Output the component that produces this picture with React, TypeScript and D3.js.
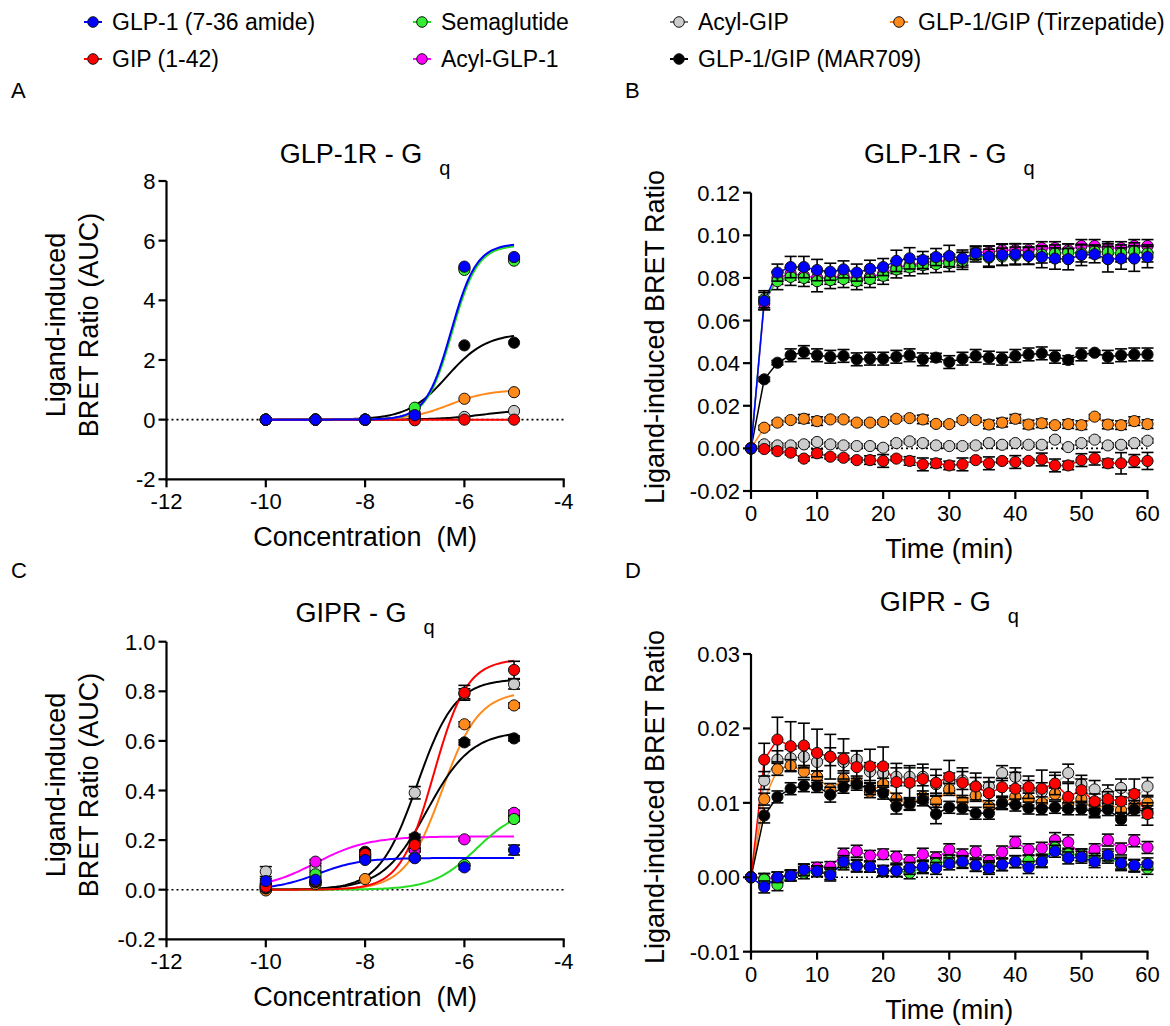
import React from "react";
import * as d3 from "d3";

const FONT = "'Liberation Sans', Arial, Helvetica, sans-serif";

// ---------- series ----------
const KEYS = ["glp1", "gip", "sema", "acylGlp1", "acylGip", "tirz", "mar709"];
const NAMES: Record<string, string> = {
  glp1: "GLP-1 (7-36 amide)",
  gip: "GIP (1-42)",
  sema: "Semaglutide",
  acylGlp1: "Acyl-GLP-1",
  acylGip: "Acyl-GIP",
  tirz: "GLP-1/GIP (Tirzepatide)",
  mar709: "GLP-1/GIP (MAR709)",
};
const FILL: Record<string, string> = {
  glp1: "#0000ff", gip: "#ff0000", sema: "#33ee33", acylGlp1: "#ff00ff",
  acylGip: "#cccccc", tirz: "#ff8a1c", mar709: "#000000",
};
const CURVE_COLOR: Record<string, string> = {
  glp1: "#0000ff", gip: "#ff0000", sema: "#22dd22", acylGlp1: "#ff00ff",
  acylGip: "#000000", tirz: "#ff8a1c", mar709: "#000000",
};
const TIME_LINE_COLOR: Record<string, string> = {
  glp1: "#0000ff", gip: "#ff0000", sema: "#22dd22", acylGlp1: "#ff00ff",
  acylGip: "#b0b0b0", tirz: "#ff8a1c", mar709: "#000000",
};
const DRAW_ORDER = ["acylGip", "tirz", "mar709", "acylGlp1", "sema", "gip", "glp1"];
const LEGEND_ROWS = [
  ["glp1", "sema", "acylGip", "tirz"],
  ["gip", "acylGlp1", "mar709"],
];

// ---------- x categories ----------
const CONC = [-10, -9, -8, -7, -6, -5];
const TIMES = [0, 2, 4, 6, 8, 10, 12, 14, 16, 18, 20, 22, 24, 26, 28, 30, 32, 34, 36, 38, 40, 42, 44, 46, 48, 50, 52, 54, 56, 58, 60];

// ---------- Panel A: GLP-1R - Gq, AUC ----------
const A_GLP1 = [0, 0, 0, 0.15, 5.13, 5.45];
const A_GIP = [0, 0, 0, -0.02, 0, 0];
const A_SEMA = [0, 0, 0, 0.4, 5.02, 5.33];
const A_ACYLGLP1 = [0, 0, 0, 0.22, 5.08, 5.4];
const A_ACYLGIP = [0, 0, 0, 0.02, 0.09, 0.29];
const A_TIRZ = [0, 0, 0, 0.06, 0.7, 0.92];
const A_MAR709 = [0, 0, 0, 0.1, 2.49, 2.58];
// fit parameters: [bottom, top, logEC50, hill]
const A_FIT_GLP1 = [0, 5.9, -6.27, 1.7];
const A_FIT_GIP = [0, 0, -6, 1];
const A_FIT_SEMA = [0, 5.85, -6.25, 1.7];
const A_FIT_ACYLGLP1 = [0, 5.88, -6.26, 1.7];
const A_FIT_ACYLGIP = [0, 0.35, -5.6, 1.0];
const A_FIT_TIRZ = [0, 1.0, -6.3, 1.1];
const A_FIT_MAR709 = [0, 2.9, -6.35, 1.1];

// ---------- Panel C: GIPR - Gq, AUC ----------
const C_GLP1 = [0.035, 0.04, 0.12, 0.127, 0.09, 0.16];
const C_GIP = [0.012, 0.035, 0.144, 0.18, 0.794, 0.886];
const C_SEMA = [0.01, 0.062, 0.13, 0.13, 0.1, 0.285];
const C_ACYLGLP1 = [0.02, 0.113, 0.14, 0.16, 0.203, 0.31];
const C_ACYLGIP = [0.073, 0.086, 0.13, 0.391, 0.79, 0.829];
const C_TIRZ = [-0.003, 0.023, 0.043, 0.16, 0.667, 0.743];
const C_MAR709 = [0.005, 0.03, 0.153, 0.211, 0.594, 0.61];
const C_ERR_GLP1 = [0.01, 0.008, 0.008, 0.008, 0.008, 0.02];
const C_ERR_GIP = [0.005, 0.005, 0.01, 0.012, 0.03, 0.035];
const C_ERR_SEMA = [0.005, 0.008, 0.005, 0.005, 0.005, 0.01];
const C_ERR_ACYLGLP1 = [0.005, 0.008, 0.005, 0.005, 0.005, 0.01];
const C_ERR_ACYLGIP = [0.02, 0.01, 0.01, 0.025, 0.02, 0.02];
const C_ERR_TIRZ = [0.005, 0.005, 0.005, 0.008, 0.01, 0.01];
const C_ERR_MAR709 = [0.005, 0.005, 0.008, 0.012, 0.01, 0.01];
const C_FIT_GLP1 = [0, 0.128, -8.95, 1.0];
const C_FIT_GIP = [0, 0.93, -6.62, 1.3];
const C_FIT_SEMA = [0, 0.33, -5.76, 1.0];
const C_FIT_ACYLGLP1 = [0, 0.215, -9.0, 0.82];
const C_FIT_ACYLGIP = [0, 0.85, -6.95, 1.14];
const C_FIT_TIRZ = [0, 0.8, -6.45, 1.17];
const C_FIT_MAR709 = [0, 0.64, -6.75, 0.98];

// ---------- Panel B: GLP-1R - Gq, time course ----------
const B_GLP1 = [0, 0.0692, 0.0825, 0.0851, 0.0851, 0.0837, 0.0829, 0.084, 0.0825, 0.0843, 0.0851, 0.088, 0.0892, 0.0884, 0.0898, 0.0903, 0.0891, 0.0916, 0.09, 0.0908, 0.0911, 0.0903, 0.0898, 0.0891, 0.0888, 0.0908, 0.0911, 0.0888, 0.0891, 0.0891, 0.0898];
const B_GIP = [0, -0.0003, -0.0013, -0.002, -0.0048, -0.0023, -0.0039, -0.0044, -0.0055, -0.0055, -0.0059, -0.0048, -0.0059, -0.0075, -0.007, -0.008, -0.0075, -0.0055, -0.007, -0.0059, -0.0064, -0.0059, -0.0052, -0.008, -0.008, -0.0055, -0.0048, -0.007, -0.007, -0.0059, -0.0059];
const B_SEMA = [0, 0.07, 0.0785, 0.0805, 0.08, 0.0785, 0.079, 0.0795, 0.0785, 0.0795, 0.081, 0.084, 0.085, 0.086, 0.0865, 0.087, 0.088, 0.0905, 0.0895, 0.09, 0.0905, 0.0905, 0.091, 0.0915, 0.092, 0.0915, 0.0925, 0.092, 0.0915, 0.0925, 0.0915];
const B_ACYLGLP1 = [0, 0.068, 0.08, 0.082, 0.081, 0.08, 0.08, 0.081, 0.0795, 0.0805, 0.082, 0.085, 0.086, 0.087, 0.088, 0.088, 0.089, 0.092, 0.092, 0.093, 0.093, 0.093, 0.094, 0.094, 0.093, 0.095, 0.095, 0.094, 0.094, 0.095, 0.095];
const B_ACYLGIP = [0, 0.0019, 0.0014, 0.0014, 0.0019, 0.003, 0.0019, 0.0014, 0.0011, 0.0011, 0.0003, 0.0025, 0.0033, 0.0025, 0.0014, 0.0011, 0.0011, 0.0014, 0.0025, 0.0017, 0.0025, 0.0017, 0.0017, 0.0041, 0.0006, 0.0025, 0.0041, 0.0014, 0.0017, 0.0025, 0.0036];
const B_TIRZ = [0, 0.0097, 0.0121, 0.0133, 0.0139, 0.0128, 0.0136, 0.0136, 0.0121, 0.0121, 0.0124, 0.0139, 0.0142, 0.0136, 0.0115, 0.0114, 0.0133, 0.0133, 0.0112, 0.0121, 0.0139, 0.0112, 0.0118, 0.0109, 0.0114, 0.0109, 0.0149, 0.0112, 0.0109, 0.0128, 0.0114];
const B_MAR709 = [0, 0.0324, 0.0402, 0.0437, 0.0452, 0.0437, 0.043, 0.0434, 0.0418, 0.0421, 0.0421, 0.043, 0.0437, 0.0418, 0.0426, 0.0405, 0.0421, 0.0434, 0.0426, 0.0421, 0.0434, 0.0441, 0.0446, 0.043, 0.0415, 0.0441, 0.0449, 0.043, 0.0437, 0.0441, 0.0441];
const B_ERR_GLP1 = [0, 0.004, 0.004, 0.005, 0.005, 0.005, 0.004, 0.004, 0.004, 0.004, 0.004, 0.005, 0.005, 0.004, 0.004, 0.005, 0.004, 0.003, 0.005, 0.005, 0.005, 0.004, 0.005, 0.005, 0.005, 0.005, 0.004, 0.006, 0.005, 0.006, 0.005];
const B_ERR_GIP = [0, 0.001, 0.001, 0.001, 0.001, 0.002, 0.001, 0.001, 0.001, 0.002, 0.003, 0.001, 0.002, 0.003, 0.002, 0.002, 0.003, 0.001, 0.003, 0.001, 0.003, 0.001, 0.003, 0.003, 0.002, 0.003, 0.003, 0.002, 0.005, 0.003, 0.004];
const B_ERR_SEMA = [0, 0.004, 0.004, 0.004, 0.004, 0.005, 0.004, 0.004, 0.004, 0.004, 0.004, 0.004, 0.004, 0.004, 0.004, 0.004, 0.004, 0.003, 0.004, 0.004, 0.004, 0.004, 0.004, 0.004, 0.004, 0.004, 0.003, 0.004, 0.004, 0.004, 0.004];
const B_ERR_ACYLGLP1 = [0, 0.003, 0.003, 0.003, 0.003, 0.003, 0.003, 0.003, 0.003, 0.003, 0.003, 0.003, 0.003, 0.003, 0.003, 0.003, 0.003, 0.003, 0.003, 0.003, 0.003, 0.003, 0.003, 0.003, 0.003, 0.003, 0.003, 0.003, 0.003, 0.003, 0.003];
const B_ERR_ACYLGIP = [0, 0.001, 0.001, 0.001, 0.001, 0.001, 0.001, 0.001, 0.001, 0.001, 0.001, 0.001, 0.001, 0.001, 0.001, 0.001, 0.001, 0.001, 0.001, 0.001, 0.001, 0.001, 0.001, 0.001, 0.001, 0.001, 0.001, 0.001, 0.001, 0.001, 0.001];
const B_ERR_TIRZ = [0, 0.001, 0.001, 0.001, 0.002, 0.002, 0.001, 0.001, 0.001, 0.001, 0.001, 0.001, 0.001, 0.002, 0.001, 0.001, 0.001, 0.001, 0.002, 0.002, 0.002, 0.002, 0.002, 0.001, 0.002, 0.002, 0.001, 0.002, 0.002, 0.002, 0.002];
const B_ERR_MAR709 = [0, 0.001, 0.001, 0.003, 0.003, 0.003, 0.003, 0.003, 0.003, 0.003, 0.003, 0.003, 0.003, 0.003, 0.002, 0.003, 0.003, 0.003, 0.003, 0.003, 0.003, 0.003, 0.003, 0.003, 0.002, 0.003, 0.001, 0.003, 0.003, 0.003, 0.003];

// ---------- Panel D: GIPR - Gq, time course ----------
const D_GLP1 = [0, -0.0013, 0, 0.0002, 0.001, 0.0008, 0.0003, 0.0021, 0.0015, 0.0014, 0.0009, 0.0009, 0.0012, 0.0014, 0.0012, 0.0018, 0.0021, 0.0016, 0.0012, 0.0017, 0.0021, 0.0013, 0.0021, 0.0035, 0.0026, 0.0027, 0.0021, 0.003, 0.0019, 0.0016, 0.0018];
const D_GIP = [0, 0.0158, 0.0185, 0.0176, 0.0177, 0.0167, 0.0162, 0.0159, 0.0148, 0.0149, 0.0149, 0.0128, 0.0127, 0.0132, 0.0127, 0.0135, 0.0127, 0.0122, 0.0113, 0.0121, 0.0119, 0.0121, 0.0119, 0.0126, 0.0108, 0.0117, 0.0102, 0.0105, 0.0102, 0.0112, 0.0085];
const D_SEMA = [0, -0.0003, -0.001, 0.0002, 0.0006, 0.0008, 0.0005, 0.0018, 0.0016, 0.0014, 0.0008, 0.0009, 0.0006, 0.0013, 0.0018, 0.0022, 0.002, 0.0016, 0.0014, 0.0017, 0.0021, 0.0022, 0.0022, 0.004, 0.0031, 0.003, 0.0024, 0.0027, 0.0017, 0.0015, 0.0012];
const D_ACYLGLP1 = [0, -0.0002, 0, 0.0003, 0.001, 0.0013, 0.0014, 0.0031, 0.0035, 0.0029, 0.0031, 0.0027, 0.0022, 0.0031, 0.0026, 0.0037, 0.003, 0.0034, 0.0022, 0.0034, 0.0047, 0.0037, 0.0039, 0.005, 0.0047, 0.003, 0.0037, 0.005, 0.0038, 0.0049, 0.004];
const D_ACYLGIP = [0, 0.013, 0.0158, 0.016, 0.0162, 0.0155, 0.0162, 0.0155, 0.0158, 0.0142, 0.014, 0.0135, 0.0135, 0.0135, 0.0125, 0.0128, 0.013, 0.0122, 0.0122, 0.014, 0.0135, 0.0118, 0.0115, 0.0125, 0.014, 0.0125, 0.0118, 0.0112, 0.012, 0.0105, 0.0122];
const D_TIRZ = [0, 0.0105, 0.0145, 0.015, 0.0142, 0.0135, 0.0118, 0.0132, 0.0128, 0.0115, 0.0125, 0.0105, 0.0098, 0.0108, 0.0102, 0.0118, 0.0102, 0.011, 0.0095, 0.01, 0.0108, 0.0105, 0.01, 0.0112, 0.0098, 0.0105, 0.009, 0.01, 0.009, 0.0095, 0.01];
const D_MAR709 = [0, 0.0083, 0.0108, 0.0119, 0.0123, 0.0122, 0.0111, 0.0121, 0.0125, 0.0119, 0.0113, 0.0095, 0.0099, 0.0104, 0.0085, 0.0094, 0.0093, 0.0086, 0.0086, 0.0099, 0.0097, 0.0093, 0.0092, 0.0094, 0.0092, 0.0092, 0.0088, 0.0091, 0.0078, 0.0091, 0.0088];
const D_ERR_GLP1 = [0, 0.0008, 0.0007, 0.0007, 0.0008, 0.0007, 0.0008, 0.0008, 0.0008, 0.0007, 0.0007, 0.0008, 0.0008, 0.0008, 0.0008, 0.0008, 0.0008, 0.0008, 0.0008, 0.0008, 0.0008, 0.0008, 0.0008, 0.0008, 0.0008, 0.0008, 0.0008, 0.0008, 0.0008, 0.0008, 0.0008];
const D_ERR_GIP = [0, 0.0022, 0.003, 0.0033, 0.003, 0.0032, 0.003, 0.0027, 0.0022, 0.0023, 0.0026, 0.0025, 0.0023, 0.002, 0.0018, 0.0022, 0.002, 0.0018, 0.0015, 0.0012, 0.0022, 0.0015, 0.0025, 0.0015, 0.0018, 0.0015, 0.001, 0.001, 0.0015, 0.002, 0.0015];
const D_ERR_SEMA = [0, 0.0008, 0.0008, 0.0007, 0.0008, 0.0007, 0.0008, 0.0008, 0.0008, 0.0007, 0.0007, 0.0008, 0.0008, 0.0008, 0.0008, 0.0008, 0.0008, 0.0008, 0.0008, 0.0008, 0.0008, 0.0008, 0.0008, 0.0008, 0.0008, 0.0008, 0.0008, 0.0008, 0.0008, 0.0008, 0.0008];
const D_ERR_ACYLGLP1 = [0, 0.0007, 0.0007, 0.0007, 0.0007, 0.0007, 0.0007, 0.0008, 0.0008, 0.0007, 0.0007, 0.0008, 0.0008, 0.0008, 0.0008, 0.0008, 0.0008, 0.0008, 0.0008, 0.0008, 0.0008, 0.0008, 0.0008, 0.001, 0.001, 0.0008, 0.0008, 0.0008, 0.0008, 0.0008, 0.0008];
const D_ERR_ACYLGIP = [0, 0.0012, 0.0012, 0.0012, 0.0012, 0.0012, 0.0012, 0.0012, 0.0012, 0.0012, 0.0012, 0.0012, 0.0012, 0.0012, 0.0012, 0.0012, 0.0012, 0.0012, 0.0012, 0.001, 0.0012, 0.0012, 0.0012, 0.0012, 0.0012, 0.0012, 0.0012, 0.0012, 0.0012, 0.0012, 0.0012];
const D_ERR_TIRZ = [0, 0.0008, 0.0008, 0.0008, 0.0008, 0.0008, 0.0008, 0.0008, 0.0008, 0.0008, 0.0008, 0.0008, 0.0008, 0.0008, 0.0008, 0.0008, 0.0008, 0.0008, 0.0008, 0.0008, 0.0008, 0.0008, 0.0008, 0.0008, 0.0008, 0.0008, 0.0008, 0.0008, 0.0008, 0.0008, 0.0008];
const D_ERR_MAR709 = [0, 0.001, 0.0008, 0.0008, 0.0008, 0.0008, 0.001, 0.0008, 0.0008, 0.0008, 0.0008, 0.001, 0.0008, 0.0008, 0.0013, 0.0008, 0.0008, 0.0008, 0.0008, 0.0008, 0.0008, 0.0008, 0.0008, 0.0008, 0.0008, 0.0008, 0.0008, 0.0008, 0.0008, 0.0008, 0.0008];

// ---------- tick values ----------
const CONC_TICKS = [-12, -10, -8, -6, -4];
const TIME_TICKS = [0, 10, 20, 30, 40, 50, 60];
const A_YTICKS = [-2, 0, 2, 4, 6, 8];
const B_YTICKS = [-0.02, 0, 0.02, 0.04, 0.06, 0.08, 0.1, 0.12];
const C_YTICKS = [-0.2, 0, 0.2, 0.4, 0.6, 0.8, 1.0];
const D_YTICKS = [-0.01, 0, 0.01, 0.02, 0.03];

function logistic(x: number, f: number[]) {
  const [b, t, l, h] = f;
  return b + (t - b) / (1 + Math.pow(10, (l - x) * h));
}

type Panel = {
  letter: string; letterX: number; letterY: number;
  left: number; right: number; top: number; bottom: number;
  xDomain: [number, number]; yDomain: [number, number];
  xTicks: number[]; yTicks: number[]; yFmt: (v: number) => string;
  title: string; titleY: number;
  xLabel: string; yLabels: string[]; yLabelXs: number[]; yLabelCY: number;
  xs: number[];
  values: Record<string, number[]>;
  errors?: Record<string, number[]>;
  fits?: Record<string, number[]>;
};

function PanelView({ p }: { p: Panel }) {
  const x = d3.scaleLinear().domain(p.xDomain).range([p.left, p.right]);
  const y = d3.scaleLinear().domain(p.yDomain).range([p.bottom, p.top]);
  const cx = (p.left + p.right) / 2;
  const line = d3.line<[number, number]>().x((d) => x(d[0])).y((d) => y(d[1]));
  const curveXs = d3.range(p.xs[0], p.xs[p.xs.length - 1] + 0.0001, 0.05);

  return (
    <g>
      <text x={p.letterX} y={p.letterY} fontSize={22} fontFamily={FONT}>{p.letter}</text>
      <text x={cx} y={p.titleY} textAnchor="middle" fontSize={27} fontFamily={FONT}>
        {p.title}
        <tspan dx={17} dy={12} fontSize={20}>q</tspan>
      </text>
      {/* zero dotted line */}
      <line x1={p.left} x2={p.right} y1={y(0)} y2={y(0)} stroke="#000" strokeWidth={1.6} strokeDasharray="2,3" />
      {/* lines / curves */}
      {DRAW_ORDER.map((k) => {
        if (p.fits) {
          const pts: [number, number][] = curveXs.map((v) => [v, logistic(v, p.fits![k])]);
          return <path key={k} d={line(pts) || ""} fill="none" stroke={CURVE_COLOR[k]} strokeWidth={2} />;
        }
        const pts: [number, number][] = p.xs.map((v, i) => [v, p.values[k][i]]);
        return <path key={k} d={line(pts) || ""} fill="none" stroke={TIME_LINE_COLOR[k]} strokeWidth={1.5} />;
      })}
      {/* error bars and points */}
      {DRAW_ORDER.map((k) => (
        <g key={k}>
          {p.errors &&
            p.xs.map((v, i) => {
              const e = p.errors![k][i];
              if (!e) return null;
              const px = x(v);
              const yt = y(p.values[k][i] + e);
              const yb = y(p.values[k][i] - e);
              return (
                <g key={i} stroke="#000" strokeWidth={1.6}>
                  <line x1={px} x2={px} y1={yt} y2={yb} />
                  <line x1={px - 6} x2={px + 6} y1={yt} y2={yt} />
                  <line x1={px - 6} x2={px + 6} y1={yb} y2={yb} />
                </g>
              );
            })}
          {p.xs.map((v, i) => (
            <circle key={i} cx={x(v)} cy={y(p.values[k][i])} r={5.6} fill={FILL[k]} stroke="#111" strokeWidth={1} />
          ))}
        </g>
      ))}
      {/* axes */}
      <line x1={p.left} x2={p.left} y1={p.top} y2={p.bottom + 1} stroke="#000" strokeWidth={2.2} />
      <line x1={p.left - 1} x2={p.right + 1} y1={p.bottom} y2={p.bottom} stroke="#000" strokeWidth={2.2} />
      {p.yTicks.map((t) => (
        <g key={t}>
          <line x1={p.left - 8} x2={p.left} y1={y(t)} y2={y(t)} stroke="#000" strokeWidth={2.2} />
          <text x={p.left - 11} y={y(t) + 8} textAnchor="end" fontSize={22} fontFamily={FONT}>{p.yFmt(t)}</text>
        </g>
      ))}
      {p.xTicks.map((t) => (
        <g key={t}>
          <line x1={x(t)} x2={x(t)} y1={p.bottom} y2={p.bottom + 8} stroke="#000" strokeWidth={2.2} />
          <text x={x(t)} y={p.bottom + 30} textAnchor="middle" fontSize={22} fontFamily={FONT}>{String(t)}</text>
        </g>
      ))}
      <text x={cx} y={p.bottom + 67} textAnchor="middle" fontSize={27} fontFamily={FONT} style={{ whiteSpace: "pre" }}>
        {p.xLabel}
      </text>
      {p.yLabels.map((s, i) => (
        <text key={i} transform={`translate(${p.yLabelXs[i]},${p.yLabelCY}) rotate(-90)`} textAnchor="middle" fontSize={27} fontFamily={FONT}>
          {s}
        </text>
      ))}
    </g>
  );
}

function rec(arrs: number[][]): Record<string, number[]> {
  const o: Record<string, number[]> = {};
  KEYS.forEach((k, i) => (o[k] = arrs[i]));
  return o;
}

export default function App() {
  const fmt = (d: number) => (v: number) => (v < 0 ? "-" : "") + Math.abs(v).toFixed(d);

  const panels: Panel[] = [
    {
      letter: "A", letterX: 11, letterY: 98,
      left: 166.5, right: 563.7, top: 181, bottom: 479.3,
      xDomain: [-12, -4], yDomain: [-2, 8], xTicks: CONC_TICKS, yTicks: A_YTICKS, yFmt: fmt(0),
      title: "GLP-1R - G", titleY: 163,
      xLabel: "Concentration  (M)", yLabels: ["Ligand-induced", "BRET Ratio (AUC)"], yLabelXs: [65, 97.5], yLabelCY: 325,
      xs: CONC,
      values: rec([A_GLP1, A_GIP, A_SEMA, A_ACYLGLP1, A_ACYLGIP, A_TIRZ, A_MAR709]),
      fits: rec([A_FIT_GLP1, A_FIT_GIP, A_FIT_SEMA, A_FIT_ACYLGLP1, A_FIT_ACYLGIP, A_FIT_TIRZ, A_FIT_MAR709]),
    },
    {
      letter: "B", letterX: 625, letterY: 98,
      left: 751, right: 1147.5, top: 192.7, bottom: 491,
      xDomain: [0, 60], yDomain: [-0.02, 0.12], xTicks: TIME_TICKS, yTicks: B_YTICKS, yFmt: fmt(2),
      title: "GLP-1R - G", titleY: 163,
      xLabel: "Time (min)", yLabels: ["Ligand-induced BRET Ratio"], yLabelXs: [664], yLabelCY: 337,
      xs: TIMES,
      values: rec([B_GLP1, B_GIP, B_SEMA, B_ACYLGLP1, B_ACYLGIP, B_TIRZ, B_MAR709]),
      errors: rec([B_ERR_GLP1, B_ERR_GIP, B_ERR_SEMA, B_ERR_ACYLGLP1, B_ERR_ACYLGIP, B_ERR_TIRZ, B_ERR_MAR709]),
    },
    {
      letter: "C", letterX: 11, letterY: 578,
      left: 166.5, right: 563.7, top: 641.7, bottom: 939.3,
      xDomain: [-12, -4], yDomain: [-0.2, 1.0], xTicks: CONC_TICKS, yTicks: C_YTICKS, yFmt: fmt(1),
      title: "GIPR - G", titleY: 621.7,
      xLabel: "Concentration  (M)", yLabels: ["Ligand-induced", "BRET Ratio (AUC)"], yLabelXs: [65, 97.5], yLabelCY: 785,
      xs: CONC,
      values: rec([C_GLP1, C_GIP, C_SEMA, C_ACYLGLP1, C_ACYLGIP, C_TIRZ, C_MAR709]),
      errors: rec([C_ERR_GLP1, C_ERR_GIP, C_ERR_SEMA, C_ERR_ACYLGLP1, C_ERR_ACYLGIP, C_ERR_TIRZ, C_ERR_MAR709]),
      fits: rec([C_FIT_GLP1, C_FIT_GIP, C_FIT_SEMA, C_FIT_ACYLGLP1, C_FIT_ACYLGIP, C_FIT_TIRZ, C_FIT_MAR709]),
    },
    {
      letter: "D", letterX: 625, letterY: 578,
      left: 751, right: 1147.5, top: 654, bottom: 951.7,
      xDomain: [0, 60], yDomain: [-0.01, 0.03], xTicks: TIME_TICKS, yTicks: D_YTICKS, yFmt: fmt(2),
      title: "GIPR - G", titleY: 611,
      xLabel: "Time (min)", yLabels: ["Ligand-induced BRET Ratio"], yLabelXs: [664], yLabelCY: 797,
      xs: TIMES,
      values: rec([D_GLP1, D_GIP, D_SEMA, D_ACYLGLP1, D_ACYLGIP, D_TIRZ, D_MAR709]),
      errors: rec([D_ERR_GLP1, D_ERR_GIP, D_ERR_SEMA, D_ERR_ACYLGLP1, D_ERR_ACYLGIP, D_ERR_TIRZ, D_ERR_MAR709]),
    },
  ];

  const legendX = [93, 422, 679, 899];
  const legendY = [22, 59];

  return (
    <svg width={1170} height={1026} style={{ position: "absolute", left: 0, top: 0, background: "#fff" }} fontFamily={FONT}>
      <rect width={1170} height={1026} fill="#fff" />
      {LEGEND_ROWS.map((row, r) =>
        row.map((k, c) => (
          <g key={k}>
            <line x1={legendX[c] - 9} x2={legendX[c] + 9} y1={legendY[r]} y2={legendY[r]} stroke={k === "acylGip" ? "#777" : CURVE_COLOR[k]} strokeWidth={2} />
            <circle cx={legendX[c]} cy={legendY[r]} r={5.3} fill={FILL[k]} stroke="#111" strokeWidth={1} />
            <text x={legendX[c] + 19} y={legendY[r] + 8} fontSize={23} fontFamily={FONT}>{NAMES[k]}</text>
          </g>
        ))
      )}
      {panels.map((p) => (
        <PanelView key={p.letter} p={p} />
      ))}
    </svg>
  );
}
